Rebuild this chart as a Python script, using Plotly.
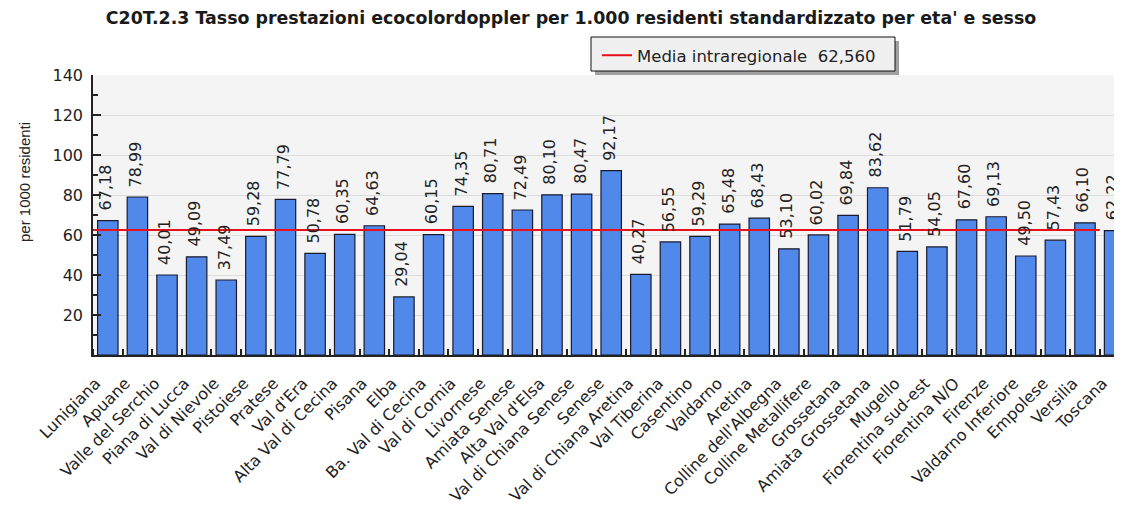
import plotly.graph_objects as go

categories = ["Lunigiana", "Apuane", "Valle del Serchio", "Piana di Lucca", "Val di Nievole",
              "Pistoiese", "Pratese", "Val d'Era", "Alta Val di Cecina", "Pisana", "Elba",
              "Ba. Val di Cecina", "Val di Cornia", "Livornese", "Amiata Senese", "Alta Val d'Elsa",
              "Val di Chiana Senese", "Senese", "Val di Chiana Aretina", "Val Tiberina", "Casentino",
              "Valdarno", "Aretina", "Colline dell'Albegna", "Colline Metallifere", "Grossetana",
              "Amiata Grossetana", "Mugello", "Fiorentina sud-est", "Fiorentina N/O", "Firenze",
              "Valdarno Inferiore", "Empolese", "Versilia", "Toscana"]
values = [67.18, 78.99, 40.01, 49.09, 37.49, 59.28, 77.79, 50.78, 60.35, 64.63, 29.04,
          60.15, 74.35, 80.71, 72.49, 80.10, 80.47, 92.17, 40.27, 56.55, 59.29, 65.48,
          68.43, 53.10, 60.02, 69.84, 83.62, 51.79, 54.05, 67.60, 69.13, 49.50, 57.43,
          66.10, 62.22]
media = 62.560
media_label = "Media intraregionale  62,560"
y_ticks = [20, 40, 60, 80, 100, 120, 140]
title = "C20T.2.3 Tasso prestazioni ecocolordoppler per 1.000 residenti standardizzato per eta' e sesso"
y_title = "per 1000 residenti"

FONT = "DejaVu Sans"
OFF = 8  # page body margin
W, H = 1122 - OFF, 518 - OFF
L, R, T, B = 93 - OFF, 0, 75 - OFF, 518 - 355
pw, ph = W - L - R, H - T - B

def px_x(x):  # page px -> paper fraction
    return (x - OFF - L) / pw

def px_y(y):
    return (H - B - (y - OFF)) / ph

idx = list(range(len(categories)))
labels = [f"{v:.2f}".replace(".", ",") for v in values]

fig = go.Figure()
fig.add_trace(go.Bar(
    x=idx, y=values, width=0.69,
    marker=dict(color="#5189ea", line=dict(color="#1a1a2e", width=1.2)),
    showlegend=False, hoverinfo="x+y",
))
fig.add_trace(go.Scatter(
    x=[-0.5, len(categories) - 1.5], y=[media, media], mode="lines",
    line=dict(color="#e8101a", width=2), name=media_label, showlegend=True,
))

for i, (v, lab) in enumerate(zip(values, labels)):
    fig.add_annotation(x=i, y=v, text=lab, textangle=-90, xanchor="center", yanchor="bottom",
                       yshift=8, xshift=-2, showarrow=False,
                       font=dict(family=FONT, size=16, color="#222"))

fig.update_layout(
    width=W, height=H,
    margin=dict(l=L, r=R, t=T, b=B, pad=0),
    paper_bgcolor="white", plot_bgcolor="#f4f4f4",
    title=dict(text=title, x=(571 - OFF) / W, xanchor="center", y=1 - (18 - OFF) / H,
               yanchor="middle",
               font=dict(family=FONT, size=17.4, color="#1a1a1a", weight="bold")),
    legend=dict(x=px_x(597), y=px_y(38), xanchor="left", yanchor="top",
                bgcolor="rgba(0,0,0,0)", borderwidth=0,
                font=dict(family=FONT, size=16.5, color="#222")),
    bargap=0.31,
    showlegend=True,
)
# legend frame with drop shadow
fig.add_shape(type="rect", xref="paper", yref="paper",
              x0=px_x(595), x1=px_x(899), y0=px_y(75), y1=px_y(41),
              fillcolor="#a0a0a0", line=dict(width=0), layer="above")
fig.add_shape(type="rect", xref="paper", yref="paper",
              x0=px_x(591), x1=px_x(895), y0=px_y(71), y1=px_y(37),
              fillcolor="#f0f0f0", line=dict(color="#111", width=1), layer="above")

fig.update_xaxes(
    range=[-0.5, 34.25], tickmode="array", tickvals=idx, ticktext=categories,
    tickangle=-45, ticks="", showgrid=False, zeroline=False,
    showline=True, linecolor="#222", linewidth=1.5,
    ticklabelshift=-12, ticklabelstandoff=11,
    tickfont=dict(family=FONT, size=16, color="#222"),
    minor=dict(tickmode="linear", tick0=0.5, dtick=1, ticks="inside", ticklen=6,
               tickcolor="#222", tickwidth=1.5, showgrid=False),
)
fig.update_yaxes(
    range=[0, 140], tickmode="array", tickvals=y_ticks, ticks="inside", ticklen=8,
    tickcolor="#222", tickwidth=1.5, showgrid=True, gridcolor="#dcdcdc", gridwidth=1,
    zeroline=False, showline=True, linecolor="#222", linewidth=1.5,
    ticklabelstandoff=5,
    tickfont=dict(family=FONT, size=16, color="#222"),
    minor=dict(tickmode="linear", tick0=0, dtick=10, ticks="inside", ticklen=5,
               tickcolor="#222", tickwidth=1.5, showgrid=False),
)
fig.add_annotation(text=y_title, xref="paper", yref="paper", x=px_x(24), y=px_y(182),
                   xanchor="center", yanchor="middle", textangle=-90, showarrow=False,
                   font=dict(family="Liberation Sans Narrow, Liberation Sans", size=15,
                             color="#222"))

fig.write_html("out.html")
